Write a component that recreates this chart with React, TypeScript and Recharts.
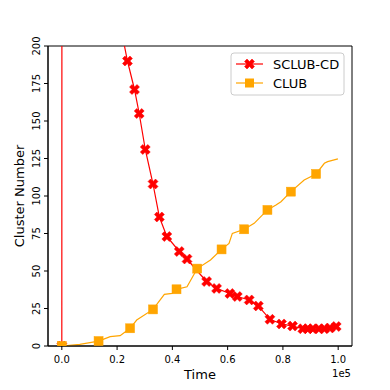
import { LineChart, Line, XAxis, YAxis, ReferenceArea } from "recharts";

// time in units of 1e5, cluster count
const sclubTime = [0, 0.002, 0.2267, 0.2375, 0.263, 0.28, 0.302, 0.33, 0.353, 0.38, 0.425, 0.453, 0.49, 0.524, 0.56, 0.608, 0.635, 0.678, 0.711, 0.753, 0.795, 0.835, 0.872, 0.89, 0.908, 0.93, 0.95, 0.97, 0.993];
const sclubCount = [0, 1500, 200, 190, 171, 155, 131, 108, 86, 73, 63, 58, 50, 43, 38.4, 35, 33, 30.7, 26.7, 17.8, 14.7, 13.3, 11.5, 11.5, 11.5, 11.5, 11.5, 12, 13];
const sclubMarked = [1, 0, 0, 1, 1, 1, 1, 1, 1, 1, 1, 1, 0, 1, 1, 1, 1, 1, 1, 1, 1, 1, 1, 1, 1, 1, 1, 1, 1];

const clubTime = [0, 0.065, 0.133, 0.175, 0.211, 0.247, 0.271, 0.33, 0.371, 0.399, 0.415, 0.453, 0.477, 0.49, 0.538, 0.578, 0.605, 0.617, 0.66, 0.696, 0.744, 0.775, 0.793, 0.829, 0.877, 0.92, 0.95, 0.962, 0.999];
const clubCount = [0, 1.1, 3.3, 6.2, 6.9, 11.8, 17.3, 24.4, 34.4, 35.1, 37.8, 39.5, 47.3, 51.6, 57.3, 64.4, 68.4, 75.1, 77.8, 81.8, 90.7, 94, 96.2, 102.9, 110.7, 114.7, 121.8, 122.9, 124.7];
const clubMarked = [1, 0, 1, 0, 0, 1, 0, 1, 0, 0, 1, 0, 0, 1, 0, 1, 0, 0, 1, 0, 1, 0, 0, 1, 0, 1, 0, 0, 0];

const xTicks = [0, 0.2, 0.4, 0.6, 0.8, 1.0];
const yTicks = [0, 25, 50, 75, 100, 125, 150, 175, 200];

const RED = "#ff0000";
const ORANGE = "#ffa500";
const FONT = "DejaVu Sans";

const sclubRows = sclubTime.map((t, i) => ({ t, v: sclubCount[i], m: sclubMarked[i] === 1 }));
const clubRows = clubTime.map((t, i) => ({ t, v: clubCount[i], m: clubMarked[i] === 1 }));

const xPath = (cx: number, cy: number) => {
  const pts = [[2.5, 0], [5, 2.5], [2.5, 5], [0, 2.5], [-2.5, 5], [-5, 2.5], [-2.5, 0], [-5, -2.5], [-2.5, -5], [0, -2.5], [2.5, -5], [5, -2.5]];
  return "M" + pts.map(([a, b]) => `${cx + a},${cy + b}`).join("L") + "Z";
};

const XDot = (props: any) => {
  const { cx, cy, payload, index } = props;
  if (!payload?.m) return <g key={`x-${index}`} />;
  return <path key={`x-${index}`} d={xPath(cx, cy)} fill={RED} stroke={RED} strokeWidth={0.5} />;
};

const SquareDot = (props: any) => {
  const { cx, cy, payload, index } = props;
  if (!payload?.m) return <g key={`s-${index}`} />;
  return <rect key={`s-${index}`} x={cx - 4.5} y={cy - 4.5} width={9} height={9} fill={ORANGE} stroke={ORANGE} strokeWidth={0.5} />;
};

const YTick = (props: any) => {
  const { x, y, payload } = props;
  return (
    <text x={x - 6} y={y} transform={`rotate(-90, ${x - 6}, ${y})`} textAnchor="middle" dominantBaseline="central" fontSize={10} fontFamily={FONT} fill="#000">
      {payload.value}
    </text>
  );
};

export default function App() {
  return (
    <div style={{ position: "absolute", left: 0, top: 0, width: 390, height: 390, background: "#fff" }}>
      <LineChart width={390} height={390} margin={{ top: 46, right: 38, left: 0, bottom: 0 }}>
        <ReferenceArea x1={-0.05} x2={1.05} y1={0} y2={200} fill="none" stroke="#000" strokeWidth={1} />
        <XAxis
          dataKey="t"
          type="number"
          domain={[-0.05, 1.05]}
          ticks={xTicks}
          tickFormatter={(v: number) => v.toFixed(1)}
          height={44}
          allowDataOverflow
          axisLine={{ stroke: "#000" }}
          tickLine={{ stroke: "#000" }}
          tickSize={4}
          tickMargin={6}
          tick={{ fontSize: 10, fontFamily: FONT, fill: "#000" }}
        />
        <YAxis
          type="number"
          domain={[0, 200]}
          ticks={yTicks}
          width={48}
          allowDataOverflow
          axisLine={{ stroke: "#000" }}
          tickLine={{ stroke: "#000" }}
          tickSize={4}
          tickMargin={2}
          tick={<YTick />}
        />
        <Line data={sclubRows} dataKey="v" stroke={RED} strokeWidth={1.2} dot={<XDot />} activeDot={false} isAnimationActive={false} />
        <Line data={clubRows} dataKey="v" stroke={ORANGE} strokeWidth={1.2} dot={<SquareDot />} activeDot={false} isAnimationActive={false} />
      </LineChart>
      <svg width={390} height={390} style={{ position: "absolute", left: 0, top: 0, pointerEvents: "none" }}>
        <text x={200} y={379} textAnchor="middle" fontSize={13} fontFamily={FONT} fill="#000">Time</text>
        <text x={351} y={377} textAnchor="end" fontSize={10} fontFamily={FONT} fill="#000">1e5</text>
        <text x={24} y={196} transform="rotate(-90, 24, 196)" textAnchor="middle" fontSize={13} fontFamily={FONT} fill="#000">Cluster Number</text>
        <rect x={231} y={53} width={113} height={42} rx={3} fill="#fff" fillOpacity={0.8} stroke="#cccccc" />
        <line x1={236} x2={263} y1={64} y2={64} stroke={RED} strokeWidth={1.2} />
        <path d={xPath(249.5, 64)} fill={RED} stroke={RED} strokeWidth={0.5} />
        <text x={273} y={69.3} fontSize={13} fontFamily={FONT} fill="#000">SCLUB-CD</text>
        <line x1={236} x2={263} y1={83} y2={83} stroke={ORANGE} strokeWidth={1.2} />
        <rect x={245} y={78.5} width={9} height={9} fill={ORANGE} />
        <text x={273} y={88.3} fontSize={13} fontFamily={FONT} fill="#000">CLUB</text>
      </svg>
    </div>
  );
}
